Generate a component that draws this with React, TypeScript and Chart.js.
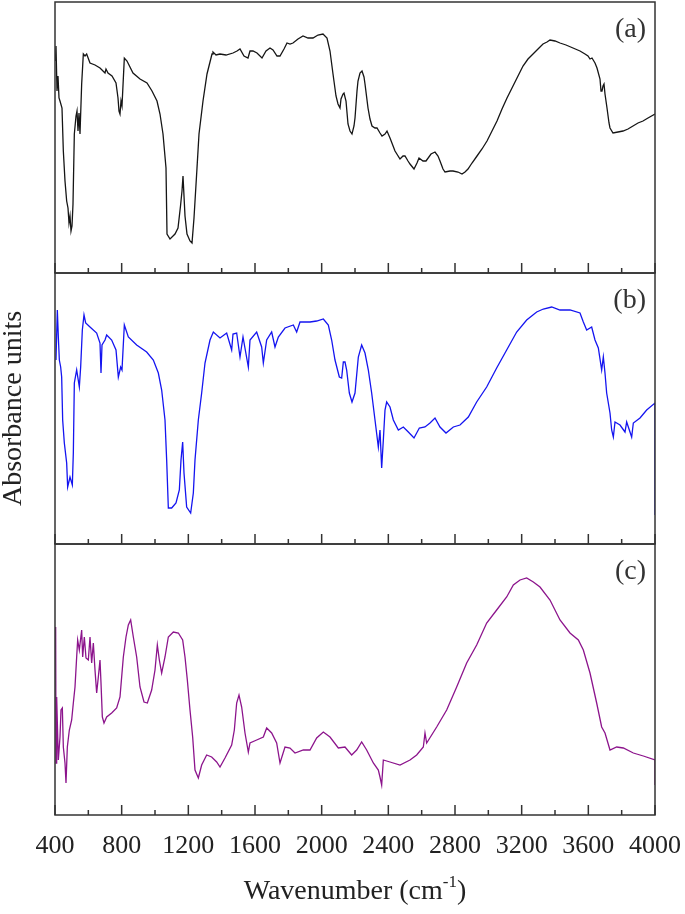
import React, { useEffect, useRef } from "react";
import { Chart, registerables } from "chart.js";

Chart.register(...registerables);

// ---- axis / labels ----
const X_MIN = 400;
const X_MAX = 4000;
const X_MAJOR_STEP = 400;
const X_MINOR_STEP = 200;
const PANEL_LABELS = ["(a)", "(b)", "(c)"];
const Y_TITLE = "Absorbance units";
const X_TITLE_MAIN = "Wavenumber (cm";
const X_TITLE_SUP = "-1";
const X_TITLE_END = ")";

// ---- spectrum (a) ----
const WN_A = [403,406,412,418,424,430,442,450,460,470,
478,484,490,496,502,508,516,526,532,538,
544,550,560,570,580,590,610,640,670,694,
700,706,718,742,766,778,784,790,796,802,
816,832,868,910,952,982,1012,1030,1048,1066,
1072,1090,1120,1138,1153,1162,1168,1174,1180,1192,
1210,1222,1234,1252,1264,1288,1312,1342,1348,1366,
1390,1426,1468,1492,1510,1534,1558,1570,1588,1612,
1642,1666,1690,1708,1732,1750,1774,1792,1810,1828,
1858,1888,1918,1948,1978,2008,2032,2050,2068,2086,
2098,2110,2116,2128,2134,2146,2158,2170,2182,2194,
2200,2212,2218,2230,2242,2254,2260,2278,2290,2302,
2320,2332,2350,2362,2380,2392,2410,2440,2470,2488,
2500,2518,2530,2554,2572,2584,2608,2626,2656,2680,
2698,2710,2728,2740,2770,2788,2818,2842,2860,2878,
2902,2932,2962,2992,3022,3052,3082,3112,3142,3172,
3208,3238,3268,3298,3328,3352,3370,3400,3430,3466,
3508,3550,3580,3598,3610,3622,3640,3652,3670,3676,
3682,3688,3694,3700,3712,3724,3730,3748,3778,3808,
3838,3868,3898,3928,3958,4000];
const ABS_A = [212,227,182,197,175,172,165,122,92,72,
65,50,57,42,47,69,139,157,162,142,
160,139,189,219,217,219,210,208,205,201,
200,204,200,197,190,175,162,159,172,167,
215,212,200,194,190,182,172,159,139,105,
39,34,39,45,67,82,97,77,57,39,
32,30,55,105,139,172,199,219,221,218,
219,218,220,222,224,217,215,222,222,220,
215,222,225,223,217,217,224,230,229,230,
234,237,235,235,238,239,235,222,199,177,
169,165,174,179,180,172,149,142,139,147,
155,182,192,200,202,196,189,165,154,147,
145,145,140,137,139,142,135,122,114,117,
117,112,109,104,110,115,112,112,119,121,
117,112,104,101,102,102,101,99,101,104,
110,117,124,132,142,152,164,175,185,195,
207,214,219,224,229,231,233,232,230,228,
225,222,219,217,214,215,210,205,194,182,
182,187,189,179,165,150,145,140,141,142,
144,147,150,152,155,159];

// ---- spectrum (b) ----
const WN_B = [406,414,420,426,434,440,446,456,470,476,
490,504,510,516,530,546,554,564,574,584,
610,650,670,676,682,700,710,740,766,780,
794,802,816,840,890,950,990,1020,1040,1060,
1070,1080,1100,1126,1146,1156,1166,1174,1190,1214,
1230,1240,1260,1280,1300,1330,1350,1390,1430,1460,
1468,1490,1510,1528,1560,1570,1610,1640,1650,1670,
1700,1720,1740,1780,1830,1850,1870,1930,1970,2010,
2040,2060,2080,2106,2120,2130,2140,2150,2166,2182,
2200,2220,2240,2260,2280,2300,2320,2340,2350,2360,
2370,2380,2390,2410,2430,2460,2490,2520,2554,2586,
2620,2650,2680,2710,2746,2790,2830,2880,2930,2990,
3050,3110,3170,3230,3290,3330,3380,3430,3490,3550,
3570,3590,3620,3640,3660,3680,3690,3700,3710,3730,
3740,3750,3760,3790,3820,3830,3860,3870,3910,3950,
4000,4000];
const ABS_B = [184,234,207,184,177,167,124,101,81,57,
67,59,91,161,174,157,177,214,229,221,
217,211,201,171,199,204,209,204,194,167,
177,174,219,207,199,192,184,171,154,124,
84,36,36,41,54,84,102,71,37,31,
51,84,124,151,181,204,212,206,211,194,
210,211,187,207,177,204,212,197,181,204,
212,197,207,216,219,212,222,222,223,225,
219,204,184,167,166,182,182,174,151,142,
151,187,199,191,174,151,124,97,114,76,
104,134,142,137,124,114,117,112,106,116,
117,121,126,117,111,117,119,127,142,157,
176,194,212,224,232,235,237,234,234,231,
222,214,217,204,196,174,187,171,151,131,
114,107,122,119,112,122,107,121,126,134,
141,29];

// ---- spectrum (c) ----
const WN_C = [404,406,410,420,430,436,444,450,460,466,
474,486,500,510,520,530,536,546,560,566,
576,586,600,610,620,630,640,650,660,670,
676,684,694,710,740,770,790,810,826,840,
854,870,890,910,934,954,980,1000,1014,1026,
1040,1060,1080,1110,1140,1166,1180,1194,1210,1226,
1240,1260,1280,1310,1340,1370,1390,1420,1460,1476,
1490,1504,1520,1540,1560,1570,1610,1650,1670,1700,
1730,1750,1780,1810,1840,1890,1930,1970,2010,2050,
2100,2140,2180,2210,2240,2270,2310,2340,2350,2360,
2370,2410,2470,2530,2570,2610,2620,2630,2690,2750,
2810,2870,2930,2990,3050,3110,3150,3190,3230,3270,
3310,3370,3430,3490,3540,3570,3610,3650,3680,3700,
3730,3770,3810,3870,3930,4000,4000];
const ABS_C = [188,52,118,55,78,105,107,68,52,32,
68,85,95,112,128,158,175,165,185,158,
178,157,155,178,152,172,145,122,138,155,
132,98,92,98,102,107,118,158,178,190,
195,178,158,128,113,112,125,145,170,155,
142,158,178,183,182,175,158,135,105,78,
45,37,50,60,58,53,48,57,70,85,
112,120,108,82,63,72,75,78,87,82,
72,52,68,67,62,65,65,77,83,78,
67,68,60,65,73,65,52,45,38,30,
55,53,50,55,60,68,82,72,88,105,
128,152,170,192,205,218,230,235,237,233,
228,215,195,182,175,165,142,112,88,82,
65,68,67,62,59,55,30];

const SERIES_COLORS = ["#151515", "#1414f0", "#8c148c"];
const Y_MAX = 271;

const SERIF = '"Liberation Serif", "Times New Roman", serif';

export default function App() {
  const ref = useRef<HTMLCanvasElement>(null);

  useEffect(() => {
    const canvas = ref.current;
    if (!canvas) return;
    const toPts = (xs: number[], ys: number[]) => xs.map((x, i) => ({ x, y: ys[i] }));
    const panelIds = ["yA", "yB", "yC"];

    const framePlugin = {
      id: "panelFrames",
      afterDraw(chart: any) {
        const ctx = chart.ctx as CanvasRenderingContext2D;
        const xs = chart.scales.x;
        ctx.save();
        ctx.strokeStyle = "#333";
        ctx.lineWidth = 1.5;
        panelIds.forEach((id, i) => {
          const ys = chart.scales[id];
          ctx.strokeRect(xs.left, ys.top, xs.right - xs.left, ys.bottom - ys.top);
          ctx.beginPath();
          for (let v = X_MIN; v <= X_MAX; v += X_MINOR_STEP) {
            const px = xs.getPixelForValue(v);
            const len = (v - X_MIN) % X_MAJOR_STEP === 0 ? 10 : 5;
            ctx.moveTo(px, ys.bottom);
            ctx.lineTo(px, ys.bottom - len);
          }
          ctx.stroke();
          ctx.fillStyle = "#333";
          ctx.font = "28px " + SERIF;
          ctx.textAlign = "right";
          ctx.textBaseline = "middle";
          ctx.fillText(PANEL_LABELS[i], xs.right - 9, ys.top + 28);
        });
        // x-axis title with superscript
        const main = "28px " + SERIF;
        const sup = "17px " + SERIF;
        ctx.fillStyle = "#222";
        ctx.font = main;
        const w1 = ctx.measureText(X_TITLE_MAIN).width;
        const w3 = ctx.measureText(X_TITLE_END).width;
        ctx.font = sup;
        const w2 = ctx.measureText(X_TITLE_SUP).width;
        let x = (xs.left + xs.right) / 2 - (w1 + w2 + w3) / 2;
        const base = 899;
        ctx.textAlign = "left";
        ctx.textBaseline = "alphabetic";
        ctx.font = main;
        ctx.fillText(X_TITLE_MAIN, x, base);
        x += w1;
        ctx.font = sup;
        ctx.fillText(X_TITLE_SUP, x, base - 12);
        x += w2;
        ctx.font = main;
        ctx.fillText(X_TITLE_END, x, base);
        ctx.restore();
      },
    };

    const yScale = (withTitle: boolean) => ({
      type: "linear" as const,
      position: "left" as const,
      stack: "panels",
      stackWeight: 1,
      min: 0,
      max: Y_MAX,
      afterFit: (s: any) => {
        s.width = 55;
      },
      grid: { display: false },
      border: { display: false },
      ticks: { display: false },
      title: {
        display: withTitle,
        text: Y_TITLE,
        color: "#222",
        padding: 0,
        font: { family: SERIF, size: 28, lineHeight: 1 },
      },
    });

    const ds = (data: any[], i: number, id: string) => ({
      label: PANEL_LABELS[i],
      data,
      yAxisID: id,
      borderColor: SERIES_COLORS[i],
      borderWidth: 1.3,
      pointRadius: 0,
      tension: 0,
      fill: false,
    });

    const chart = new Chart(canvas, {
      type: "line",
      data: {
        datasets: [
          ds(toPts(WN_A, ABS_A), 0, "yA"),
          ds(toPts(WN_B, ABS_B), 1, "yB"),
          ds(toPts(WN_C, ABS_C), 2, "yC"),
        ],
      },
      options: {
        responsive: false,
        animation: false,
        devicePixelRatio: 1,
        layout: { padding: { top: 2, right: 30, bottom: 0, left: 0 } },
        plugins: { legend: { display: false }, tooltip: { enabled: false } },
        scales: {
          x: {
            type: "linear",
            position: "bottom",
            min: X_MIN,
            max: X_MAX,
            afterFit: (s: any) => {
              s.height = 99;
              s.paddingLeft = 0;
              s.paddingRight = 0;
            },
            grid: { display: false },
            border: { display: false },
            ticks: {
              stepSize: X_MAJOR_STEP,
              autoSkip: false,
              maxRotation: 0,
              padding: 8,
              color: "#222",
              font: { family: SERIF, size: 26 },
              callback: (v: any) => String(v),
            },
          },
          yC: yScale(false),
          yB: yScale(true),
          yA: yScale(false),
        } as any,
      },
      plugins: [framePlugin],
    });
    return () => chart.destroy();
  }, []);

  return (
    <div style={{ position: "absolute", left: 0, top: 0, width: 685, height: 914 }}>
      <canvas ref={ref} width={685} height={914} style={{ display: "block" }} />
    </div>
  );
}
